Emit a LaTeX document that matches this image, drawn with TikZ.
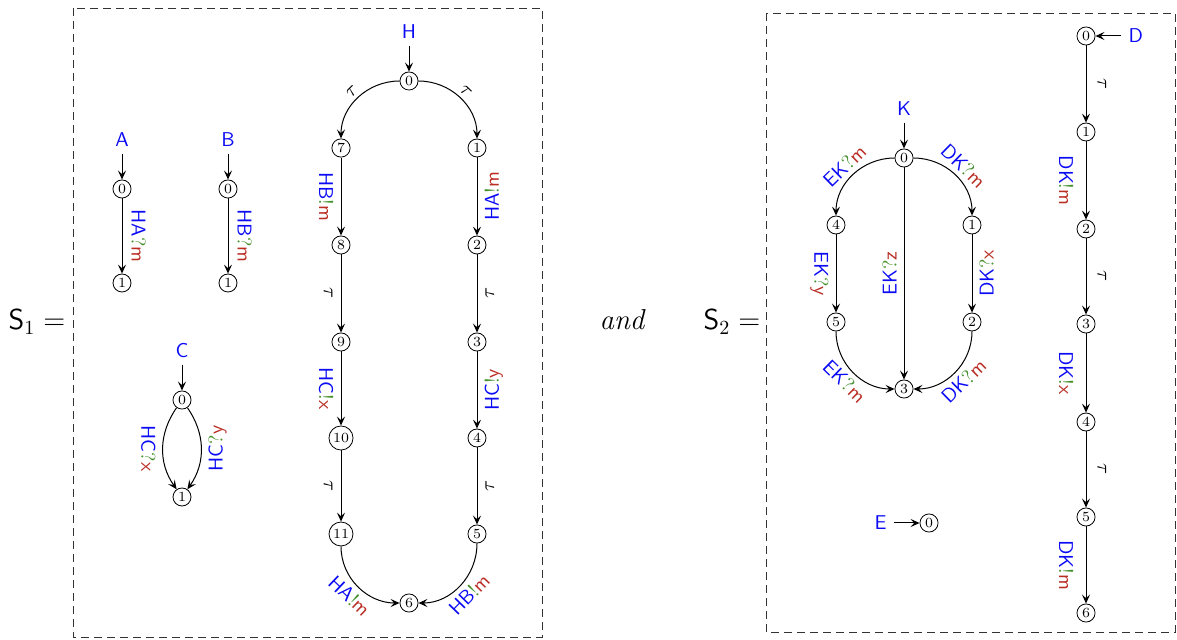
\documentclass[tikz,border=0pt]{standalone}
\usepackage{xcolor}
\usepackage{tikz}
\usetikzlibrary{arrows.meta,positioning}
\definecolor{chanBlue}{RGB}{10,10,245}
\definecolor{actGreen}{RGB}{70,145,45}
\definecolor{valRed}{RGB}{185,45,35}
\newcommand{\rcv}[2]{\textcolor{chanBlue}{#1}\textcolor{actGreen}{\textrm{?}}\textcolor{valRed}{#2}}
\newcommand{\snd}[2]{\textcolor{chanBlue}{#1}\textcolor{actGreen}{\textrm{!}}\textcolor{valRed}{#2}}
\tikzset{
  st/.style={circle, draw, inner sep=1pt, minimum size=9pt, font=\scriptsize},
  proc/.style={text=chanBlue, font=\sffamily},
  trans/.style={-{Stealth[length=4.5pt, width=4pt, inset=1.8pt]}, line width=0.5pt},
  act/.style={font=\sffamily, inner sep=3.5pt},
  tau/.style={inner sep=4pt},
  wdn/.style={rotate=-90, anchor=north},
  eup/.style={rotate=90, anchor=north},
  edn/.style={rotate=-90, anchor=south},
  wup/.style={rotate=90, anchor=south},
  curv/.style={sloped, inner sep=2.5pt},
  dashbox/.style={dash pattern=on 4pt off 2.5pt, draw=black!80}
}

\begin{document}
\begin{tikzpicture}[x=0.5pt, y=0.5pt]
  \useasboundingbox (0,0) rectangle (1177,-640);

  % S1
  \node[font=\Large] (s1) at (37,-322) {$\mathsf{S}_1 =$};
  \draw[dashbox] (73,-8) rectangle (542,-637);

  \node[st] (a0) at (122,-189) {0};
  \node[st] (a1) at (122,-283) {1};
  \node[proc, above=13pt of a0] (pa) {A};
  \draw[trans] (pa) -- (a0);
  \draw[trans] (a0) -- node[act, edn, inner sep=4.5pt] {\rcv{HA}{m}} (a1);

  \node[st] (b0) at (228,-189) {0};
  \node[st] (b1) at (228,-283) {1};
  \node[proc, above=13pt of b0] (pb) {B};
  \draw[trans] (pb) -- (b0);
  \draw[trans] (b0) -- node[act, edn, inner sep=4.5pt] {\rcv{HB}{m}} (b1);

  \node[st] (c0) at (182,-400) {0};
  \node[st] (c1) at (182,-497) {1};
  \node[proc, above=13pt of c0] (pc) {C};
  \draw[trans] (pc) -- (c0);
  \draw[trans] (c0) to[bend right=35] node[act, wdn] {\rcv{HC}{x}} (c1);
  \draw[trans] (c0) to[bend left=35] node[act, eup] {\rcv{HC}{y}} (c1);

  \node[st] (h0) at (409,-81) {0};
  \node[st] (h7) at (341,-148) {7};
  \node[st] (h8) at (341,-245) {8};
  \node[st] (h9) at (341,-342) {9};
  \node[st] (h10) at (341,-438) {10};
  \node[st] (h11) at (341,-534) {11};
  \node[st] (h1) at (477,-148) {1};
  \node[st] (h2) at (477,-245) {2};
  \node[st] (h3) at (477,-342) {3};
  \node[st] (h4) at (477,-438) {4};
  \node[st] (h5) at (477,-534) {5};
  \node[st] (h6) at (409,-603) {6};
  \node[proc, above=13pt of h0] (ph) {H};
  \draw[trans] (ph) -- (h0);
  \draw[trans] (h0) to[out=180, in=90] node[sloped, above, inner sep=2pt] {$\tau$} (h7);
  \draw[trans] (h0) to[out=0, in=90] node[sloped, above, inner sep=2pt] {$\tau$} (h1);
  \draw[trans] (h7) -- node[act, wdn] {\snd{HB}{m}} (h8);
  \draw[trans] (h8) -- node[tau, wdn] {$\tau$} (h9);
  \draw[trans] (h9) -- node[act, wdn] {\snd{HC}{x}} (h10);
  \draw[trans] (h10) -- node[tau, wdn] {$\tau$} (h11);
  \draw[trans] (h1) -- node[act, eup] {\snd{HA}{m}} (h2);
  \draw[trans] (h2) -- node[tau, eup] {$\tau$} (h3);
  \draw[trans] (h3) -- node[act, eup] {\snd{HC}{y}} (h4);
  \draw[trans] (h4) -- node[tau, eup] {$\tau$} (h5);
  \draw[trans] (h11) to[out=-90, in=180] node[act, curv, below] {\snd{HA}{m}} (h6);
  \draw[trans] (h5) to[out=-90, in=0] node[act, curv, below] {\snd{HB}{m}} (h6);

  \node[font=\Large\itshape] (conj) at (622,-320) {and};

  % S2
  \node[font=\Large] (s2) at (732,-322) {$\mathsf{S}_2 =$};
  \draw[dashbox] (766,-13) rectangle (1175,-632);

  \node[st] (k0) at (904,-158) {0};
  \node[st] (k4) at (836,-225) {4};
  \node[st] (k1) at (972,-225) {1};
  \node[st] (k5) at (836,-322) {5};
  \node[st] (k2) at (972,-322) {2};
  \node[st] (k3) at (904,-389) {3};
  \node[proc, above=13pt of k0] (pk) {K};
  \draw[trans] (pk) -- (k0);
  \draw[trans] (k0) to[out=180, in=90] node[act, curv, above] {\rcv{EK}{m}} (k4);
  \draw[trans] (k0) to[out=0, in=90] node[act, curv, above] {\rcv{DK}{m}} (k1);
  \draw[trans] (k4) -- node[act, wdn] {\rcv{EK}{y}} (k5);
  \draw[trans] (k0) -- node[act, wup] {\rcv{EK}{z}} (k3);
  \draw[trans] (k1) -- node[act, eup] {\rcv{DK}{x}} (k2);
  \draw[trans] (k5) to[out=-90, in=180] node[act, curv, below] {\rcv{EK}{m}} (k3);
  \draw[trans] (k2) to[out=-90, in=0] node[act, curv, below] {\rcv{DK}{m}} (k3);

  \node[st] (d0) at (1086,-36) {0};
  \node[st] (d1) at (1086,-132) {1};
  \node[st] (d2) at (1086,-229) {2};
  \node[st] (d3) at (1086,-324) {3};
  \node[st] (d4) at (1086,-422) {4};
  \node[st] (d5) at (1086,-517) {5};
  \node[st] (d6) at (1086,-613) {6};
  \node[proc, right=13pt of d0] (pd) {D};
  \draw[trans] (pd) -- (d0);
  \draw[trans] (d0) -- node[tau, edn, inner sep=5.5pt] {$\tau$} (d1);
  \draw[trans] (d1) -- node[act, wdn, inner sep=6pt] {\snd{DK}{m}} (d2);
  \draw[trans] (d2) -- node[tau, edn, inner sep=5.5pt] {$\tau$} (d3);
  \draw[trans] (d3) -- node[act, wdn, inner sep=6pt] {\snd{DK}{x}} (d4);
  \draw[trans] (d4) -- node[tau, edn, inner sep=5.5pt] {$\tau$} (d5);
  \draw[trans] (d5) -- node[act, wdn, inner sep=6pt] {\snd{DK}{m}} (d6);

  \node[st] (e0) at (929,-523) {0};
  \node[proc, left=13pt of e0] (pe) {E};
  \draw[trans] (pe) -- (e0);
\end{tikzpicture}
\end{document}
